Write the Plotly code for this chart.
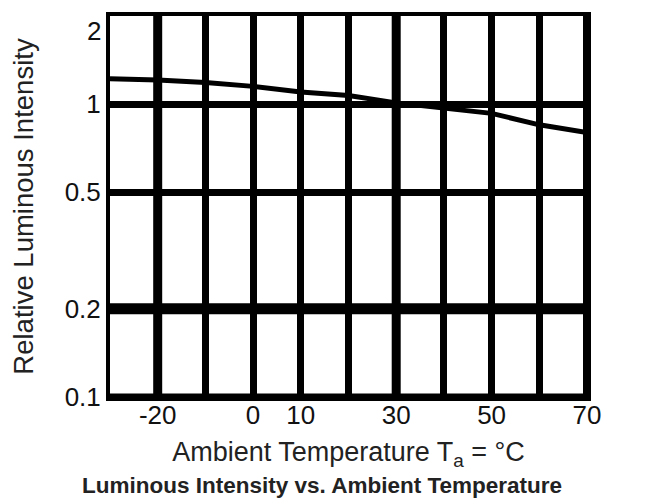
import math
import plotly.graph_objects as go

# Data
temp_c = [-30, -20, -10, 0, 10, 20, 30, 40, 50, 60, 70]
rel_intensity = [1.22, 1.21, 1.185, 1.15, 1.10, 1.07, 1.01, 0.97, 0.93, 0.85, 0.80]

x_tick_vals = [-20, 0, 10, 30, 50, 70]
x_tick_text = ["-20", "0", "10", "30", "50", "70"]
y_tick_vals = [0.1, 0.2, 0.5, 1, 2]
y_tick_text = ["0.1", "0.2", "0.5", "1", "2"]
thick_x = [-20, 30]
thick_y = [0.2]

TICK_FONT = dict(family="Liberation Sans, Arial", size=26, color="#111")
X_LABEL_FONT = dict(family="Liberation Sans, Arial", size=27, color="#222")
Y_LABEL_FONT = dict(family="Liberation Sans, Arial", size=27.5, color="#222")

# page has an 8px body margin, so the figure is drawn 8px in from the top-left
W, H = 637, 496

fig = go.Figure()
fig.add_trace(go.Scatter(x=temp_c, y=rel_intensity, mode="lines",
                         line=dict(color="black", width=5), showlegend=False))

shapes = []
for xv in thick_x:
    shapes.append(dict(type="line", xref="x", yref="y domain", x0=xv, x1=xv, y0=0, y1=1,
                       line=dict(color="black", width=9), layer="below"))
for yv in thick_y:
    shapes.append(dict(type="line", xref="x domain", yref="y", x0=0, x1=1, y0=yv, y1=yv,
                       line=dict(color="black", width=11), layer="below"))
# heavier bottom and right frame edges
shapes.append(dict(type="line", xref="x domain", yref="y domain", x0=0, x1=1, y0=0, y1=0,
                   line=dict(color="black", width=7)))
shapes.append(dict(type="line", xref="x domain", yref="y domain", x0=1, x1=1, y0=0, y1=1,
                   line=dict(color="black", width=8)))

# the top tick label sits just below the top frame edge (as in the reference)
annotations = [dict(text=y_tick_text[-1], xref="paper", x=0, xanchor="right", xshift=-7,
                    yref="y", y=math.log10(y_tick_vals[-1]), yanchor="top", yshift=2,
                    showarrow=False, font=TICK_FONT)]

fig.update_layout(
    width=W, height=H,
    margin=dict(l=102, r=58, t=8, b=107, autoexpand=False),
    paper_bgcolor="white", plot_bgcolor="white",
    shapes=shapes, annotations=annotations,
    title=dict(text="<b>Luminous Intensity vs. Ambient Temperature</b>",
               font=dict(family="Liberation Sans, Arial", size=22.5, color="#222"),
               x=(322 - 8) / W, xanchor="center", xref="container",
               y=1 - (485 - 8) / H, yanchor="middle", yref="container"),
    xaxis=dict(range=[-30, 70], tickmode="array", tickvals=x_tick_vals, ticktext=x_tick_text,
               showgrid=True, gridcolor="black", gridwidth=7, automargin=False,
               minor=dict(dtick=10, tick0=0, showgrid=True, gridcolor="black", gridwidth=7, ticks=""),
               showline=True, linecolor="black", linewidth=4, mirror=True,
               ticks="", tickfont=TICK_FONT, zeroline=False, ticklabelstandoff=-8,
               title=dict(text="Ambient Temperature T<sub>a</sub> = °C", font=X_LABEL_FONT, standoff=14)),
    yaxis=dict(type="log", range=[-1, 0.30103], tickmode="array",
               tickvals=y_tick_vals[:-1], ticktext=y_tick_text[:-1],
               showgrid=True, gridcolor="black", gridwidth=7, automargin=False,
               showline=True, linecolor="black", linewidth=4, mirror=True,
               ticks="", tickfont=TICK_FONT, zeroline=False,
               title=dict(text="Relative Luminous Intensity", font=Y_LABEL_FONT, standoff=30)),
)

fig.write_html("out.html")
